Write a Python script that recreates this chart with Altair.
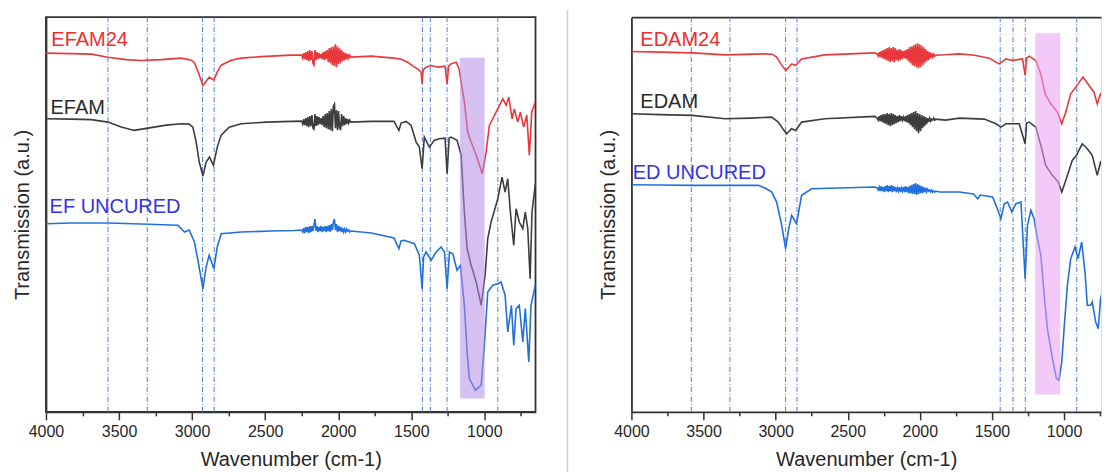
import altair as alt
import pandas as pd

FONT = "Liberation Sans"

# ================= Left panel (EF series) =================
# shared wavenumber grid of the noisy 2250-1914 cm-1 stretch
left_noise_wn = [2250, 2243, 2236, 2229, 2222, 2215, 2208, 2201, 2194, 2187,
                 2180, 2173, 2166, 2159, 2152, 2145, 2138, 2131, 2124, 2117,
                 2110, 2103, 2096, 2089, 2082, 2075, 2068, 2061, 2054, 2047,
                 2040, 2033, 2026, 2019, 2012, 2005, 1998, 1991, 1984, 1977,
                 1970, 1963, 1956, 1949, 1942, 1935, 1928, 1921, 1914]

efam24_head_wn = [4000, 3827, 3690, 3576, 3451, 3348, 3211, 3075, 3006, 2986,
                  2958, 2926, 2904, 2883, 2851, 2828, 2801, 2732, 2664, 2527, 2322]
efam24_head_t = [359, 358.5, 358, 355, 352.5, 351.7, 352.5, 354, 352, 350,
                 340, 326.7, 331, 335, 332, 340, 347, 352, 354, 355.5, 357]
efam24_noise_t = [357, 354, 359, 353, 360, 352, 361, 351, 362, 352,
                  361, 349, 347, 362, 352, 360, 353, 359, 354, 358,
                  353, 360, 352, 361, 353, 362, 350, 364, 349, 365,
                  347, 366, 346, 368, 345, 366, 348, 364, 349, 362,
                  351, 360, 352, 359, 353, 358, 354, 357, 355]
efam24_tail_wn = [1775, 1618, 1570, 1524, 1488, 1456, 1433, 1426, 1419, 1399,
                  1364, 1317, 1269, 1255, 1245, 1228, 1193, 1173, 1137, 1114,
                  1091, 1056, 1015, 988, 966, 920, 874, 851, 833, 810,
                  795, 772, 754, 731, 710, 692, 676, 651]
efam24_tail_t = [356, 354, 353, 350, 346, 343, 340, 328.3, 342, 345,
                 346.7, 345, 346, 328.3, 346, 348.3, 350, 343.3, 310, 280,
                 270, 257, 238.3, 260, 286.7, 300, 313.3, 307, 315, 293.3,
                 303.3, 290, 300, 285, 297, 256.7, 300, 310]

efam_head_wn = [4000, 3827, 3690, 3576, 3485, 3396, 3302, 3177, 3075, 3020,
                2995, 2972, 2951, 2926, 2904, 2881, 2854, 2828, 2801, 2746,
                2664, 2493, 2322]
efam_head_t = [293.3, 293, 292.5, 290, 285, 281.7, 284, 287, 288.3, 288,
               285, 270, 250, 236, 250, 255, 246.7, 265, 277, 285,
               288.3, 290, 290.7]
efam_noise_t = [291, 288, 293, 287, 294, 286, 295, 285, 296, 286,
                297, 284, 283, 298, 286, 296, 287, 295, 288, 294,
                287, 296, 285, 298, 284, 299, 283, 301, 282, 303,
                281, 306, 308, 284, 302, 282, 301, 284, 283, 298,
                286, 296, 287, 294, 288, 293, 289, 292, 290]
efam_tail_wn = [1775, 1618, 1585, 1570, 1536, 1501, 1467, 1445, 1426, 1411,
                1376, 1344, 1308, 1269, 1255, 1241, 1228, 1187, 1159, 1137,
                1118, 1091, 1056, 1022, 995, 977, 954, 908, 879, 858,
                840, 822, 799, 783, 761, 737, 720, 703, 687, 674, 651]
efam_tail_t = [290.7, 290.7, 281.7, 289, 290.7, 286.7, 270, 265, 243.3, 275,
               265, 271.7, 273.3, 274, 238.3, 274, 275, 271.7, 257, 200,
               163.3, 147, 130, 106.7, 137, 173.3, 190, 213.3, 235, 220,
               233.3, 200, 166.7, 203.3, 190, 183.3, 200, 183.3, 133.3, 200, 228.3]

ef_unc_head_wn = [4000, 3827, 3576, 3348, 3097, 3052, 3020, 2984, 2958, 2926,
                  2904, 2883, 2851, 2828, 2801, 2664, 2459, 2300]
ef_unc_head_t = [188.3, 189, 189, 188, 186.7, 180, 182, 170, 150, 123,
                 145, 156.7, 143.3, 165, 178.3, 180, 181, 181.5]
ef_unc_noise_t = [182, 180, 184, 179, 185, 180, 185, 179, 186, 180,
                  186, 181, 187, 193, 181, 186, 180, 185, 181, 186,
                  180, 185, 181, 186, 180, 186, 181, 187, 180, 188,
                  182, 190, 193, 182, 188, 180, 186, 181, 185, 180,
                  184, 180, 183, 180, 183, 181, 182, 180, 181]
ef_unc_tail_wn = [1775, 1618, 1585, 1570, 1549, 1479, 1445, 1426, 1416, 1399,
                  1364, 1330, 1296, 1273, 1255, 1239, 1216, 1187, 1164, 1137,
                  1118, 1103, 1061, 1022, 1000, 977, 943, 908, 886, 858,
                  840, 815, 799, 783, 761, 737, 720, 696, 681, 651]
ef_unc_tail_t = [179, 174, 163.3, 171, 171.7, 168.3, 156.7, 123.3, 155, 160,
                 151.7, 160, 165, 160, 123.3, 160, 158.3, 141.7, 146.7, 106.7,
                 60, 33.3, 21.7, 26.7, 66.7, 120, 126.7, 128.3, 130, 116.7,
                 80, 106.7, 66.7, 103.3, 106.7, 70, 103.3, 50, 106.7, 126.7]

left_marker_lines = [3576, 3307, 2929, 2849, 1424, 1370, 1255, 908]
left_band = {"x": 1166, "x2": 998, "y": 13.3, "y2": 354.3}
left_labels = ["EFAM24", "EFAM", "EF UNCURED"]
left_label_wn = [3963, 3969, 3975]
left_label_t = [371.7, 304, 205]

# ================= Right panel (ED series) =================
right_noise_wn = [2296, 2289, 2282, 2275, 2268, 2261, 2254, 2247, 2240, 2233,
                  2226, 2219, 2212, 2205, 2198, 2191, 2184, 2177, 2170, 2163,
                  2156, 2149, 2142, 2135, 2128, 2121, 2114, 2107, 2100, 2093,
                  2086, 2079, 2072, 2065, 2058, 2051, 2044, 2037, 2030, 2023,
                  2016, 2009, 2002, 1995, 1988, 1981, 1974, 1967, 1960, 1953,
                  1946, 1939, 1932, 1925, 1918, 1911, 1904, 1897, 1890]

edam24_head_wn = [4000, 3800, 3580, 3350, 3074, 3025, 2993, 2963, 2929, 2889,
                  2862, 2820, 2659, 2313]
edam24_head_t = [360.7, 360, 359.3, 357.3, 358.3, 358, 355, 348, 341.7, 348.3,
                 346.7, 353.3, 357.3, 359.3]
edam24_noise_t = [358, 356, 360, 355, 361, 354, 362, 353, 363, 352,
                  364, 351, 365, 350, 364, 351, 365, 350, 364, 352,
                  362, 351, 363, 352, 362, 353, 361, 354, 362, 353,
                  363, 351, 365, 349, 366, 347, 367, 346, 368, 345,
                  369, 344, 368, 345, 367, 347, 365, 349, 363, 351,
                  361, 352, 360, 354, 359, 355, 358, 356, 357]
edam24_tail_wn = [1823, 1726, 1622, 1519, 1472, 1449, 1403, 1357, 1288, 1270,
                  1260, 1242, 1196, 1161, 1132, 1092, 1046, 1016, 988, 954,
                  919, 869, 827, 793, 770, 747, 712, 689]
edam24_tail_t = [357.4, 358.3, 357, 354, 350, 348.3, 353.3, 351.7, 353.3, 336.7,
                 354, 356, 351.7, 338.3, 318.3, 308.3, 300, 288.3, 300, 318.3,
                 325, 335, 326.7, 320, 308.3, 318.3, 321.7, 316.7]

edam_head_wn = [4000, 3800, 3580, 3350, 3177, 3027, 2982, 2949, 2924, 2889,
                2862, 2820, 2659, 2313]
edam_head_t = [298.3, 297.5, 296.7, 293.3, 294, 295, 290, 283, 278.3, 283.3,
               281.7, 290, 293.3, 295.7]
edam_noise_t = [294, 292, 296, 291, 297, 290, 298, 289, 298, 288,
                299, 287, 298, 286, 299, 287, 298, 288, 297, 289,
                296, 290, 297, 291, 296, 292, 295, 291, 296, 290,
                297, 289, 298, 287, 299, 285, 300, 283, 301, 281,
                299, 279, 298, 281, 297, 284, 296, 286, 295, 288,
                294, 290, 294, 291, 293, 292, 294, 292, 293]
edam_tail_wn = [1823, 1726, 1553, 1472, 1438, 1403, 1311, 1270, 1260, 1242,
                1196, 1161, 1127, 1081, 1040, 1016, 988, 943, 915, 874,
                839, 805, 770, 747, 712, 689]
edam_tail_t = [292, 294, 293, 288.3, 285, 288.3, 288.3, 268.3, 289, 290,
               285, 266.7, 246.7, 236.7, 230, 220, 231.7, 251.7, 256.7, 268.3,
               263.3, 256.7, 236.7, 250, 253.3, 243.3]

ed_unc_head_wn = [4000, 3800, 3580, 3120, 3074, 3027, 2993, 2958, 2931, 2911,
                  2889, 2855, 2820, 2751, 2313]
ed_unc_head_t = [227.3, 227, 226.7, 226.7, 224, 220, 210, 186.7, 163.3, 182,
                 196.7, 188.3, 216.7, 223.3, 225]
ed_unc_noise_t = [224, 222, 225, 221, 226, 221, 225, 220, 226, 221,
                  227, 220, 226, 221, 227, 220, 226, 221, 225, 220,
                  224, 221, 225, 220, 224, 221, 225, 220, 226, 220,
                  225, 219, 226, 219, 227, 218, 228, 218, 229, 217,
                  228, 218, 227, 219, 226, 219, 225, 220, 224, 220,
                  223, 221, 222, 220, 222, 220, 221, 220, 221]
ed_unc_tail_wn = [1864, 1726, 1629, 1599, 1581, 1496, 1472, 1438, 1415, 1392,
                  1362, 1334, 1299, 1270, 1254, 1230, 1208, 1185, 1161, 1138,
                  1116, 1081, 1053, 1035, 1016, 1000, 977, 954, 924, 903,
                  878, 855, 839, 816, 805, 781, 763, 747, 724, 701, 689]
ed_unc_tail_t = [220, 220, 218, 213.3, 217, 215, 206.7, 193.3, 208.3, 210,
                 200, 208.3, 210, 133.3, 186.7, 201.7, 193.3, 173.3, 156.7, 116.7,
                 83.3, 53.3, 33.3, 31.7, 50, 83.3, 126.7, 153.3, 165, 153.3,
                 170, 140, 106.7, 106.7, 110, 90, 83.3, 113.3, 126.7, 96.7, 150]

right_marker_lines = [3585, 3317, 2931, 2852, 1443, 1354, 1269, 912]
right_band = {"x": 1200, "x2": 1027, "y": 17.3, "y2": 379}
right_labels = ["EDAM24", "EDAM", "ED UNCURED"]
right_label_wn = [3938, 3938, 3991]
right_label_t = [371.7, 310, 239.3]

LINE_COLORS = ["#e8383b", "#3d3d3d", "#2270dd"]
LABEL_COLORS = ["#ee2d2d", "#2a2a2a", "#3333e6"]
Y_DOMAIN = [0, 395]
TEXT_COLOR = "#262626"
FRAME_COLOR = "#333333"


def series_frame(name, head_wn, head_t, noise_wn, noise_t, tail_wn, tail_t):
    return pd.DataFrame({
        "series": name,
        "wn": head_wn + noise_wn + tail_wn,
        "t": head_t + noise_t + tail_t,
    })


def x_axis_bottom():
    return alt.Axis(
        orient="bottom", title="Wavenumber (cm-1)", grid=False,
        values=list(range(4000, 700, -250)),
        labelExpr="datum.value % 500 === 0 ? datum.value : ''",
        labelFlush=False, labelOverlap=False, labelPadding=4,
        tickSize={"condition": {"test": "datum.value % 500 === 0", "value": 8}, "value": 4},
        tickWidth=1.5, tickColor=FRAME_COLOR,
        domainColor=FRAME_COLOR, domainWidth=1.8,
        labelFont=FONT, labelFontSize=16, labelColor=TEXT_COLOR,
        titleFont=FONT, titleFontSize=20, titleFontWeight="normal",
        titleColor=TEXT_COLOR, titlePadding=10,
    )


def y_axis_left():
    return alt.Axis(
        orient="left", title="Transmission (a.u.)", grid=False,
        labels=False, ticks=False, domain=True,
        domainColor=FRAME_COLOR, domainWidth=1.8,
        titleFont=FONT, titleFontSize=20, titleFontWeight="normal",
        titleColor=TEXT_COLOR, titlePadding=13,
    )


def panel(names, spectra, marker_lines, band, band_color, label_wn, label_t,
          x_domain, width, right_panel):
    xs = alt.Scale(domain=x_domain, nice=False, zero=False)
    ys = alt.Scale(domain=Y_DOMAIN, nice=False, zero=False)
    color = alt.Color("series:N", legend=None,
                      scale=alt.Scale(domain=names, range=LINE_COLORS))

    vl = alt.Chart(pd.DataFrame({"wn": marker_lines})).mark_rule(
        color="#4d7fd6", strokeWidth=1, strokeDash=[5, 2, 1, 2]
    ).encode(x=alt.X("wn:Q", scale=xs, axis=x_axis_bottom()))

    spec = alt.Chart(pd.concat(spectra, ignore_index=True)).mark_line(
        strokeWidth=1.6, clip=True
    ).encode(
        x=alt.X("wn:Q", scale=xs, axis=None),
        y=alt.Y("t:Q", scale=ys, axis=y_axis_left()),
        color=color,
        detail="series:N",
    )

    top_axis = alt.Axis(orient="top", title=None, labels=False, ticks=False,
                        grid=False, domain=True, domainColor=FRAME_COLOR,
                        domainWidth=1.8) if right_panel else None
    rect = alt.Chart(pd.DataFrame([band])).mark_rect(
        color=band_color, opacity=0.55
    ).encode(
        x=alt.X("x:Q", scale=xs, axis=top_axis),
        x2="x2:Q",
        y=alt.Y("y:Q", scale=ys, axis=None),
        y2="y2:Q",
    )

    lab = alt.Chart(pd.DataFrame({"label": names, "wn": label_wn, "t": label_t,
                                  "c": LABEL_COLORS})).mark_text(
        align="left", baseline="middle", font=FONT, fontSize=20
    ).encode(
        x=alt.X("wn:Q", scale=xs, axis=None),
        y=alt.Y("t:Q", scale=ys, axis=None),
        text="label:N",
        color=alt.Color("c:N", scale=None, legend=None),
    )

    layers = [vl, spec, rect, lab]
    if right_panel:
        sep = alt.Chart(pd.DataFrame({"k": [0]})).mark_rule(
            color="#cfcfcf", strokeWidth=1.5
        ).encode(x=alt.value(-64), y=alt.value(-7), y2=alt.value(457))
        layers.append(sep)

    ch = alt.layer(*layers).resolve_axis(x="independent", y="independent") \
        .resolve_scale(color="independent").properties(width=width, height=395)
    if not right_panel:
        ch = ch.properties(view=alt.ViewBackground(stroke=FRAME_COLOR, strokeWidth=1.8))
    return ch


left_spectra = [
    series_frame("EFAM24", efam24_head_wn, efam24_head_t, left_noise_wn,
                 efam24_noise_t, efam24_tail_wn, efam24_tail_t),
    series_frame("EFAM", efam_head_wn, efam_head_t, left_noise_wn,
                 efam_noise_t, efam_tail_wn, efam_tail_t),
    series_frame("EF UNCURED", ef_unc_head_wn, ef_unc_head_t, left_noise_wn,
                 ef_unc_noise_t, ef_unc_tail_wn, ef_unc_tail_t),
]
right_spectra = [
    series_frame("EDAM24", edam24_head_wn, edam24_head_t, right_noise_wn,
                 edam24_noise_t, edam24_tail_wn, edam24_tail_t),
    series_frame("EDAM", edam_head_wn, edam_head_t, right_noise_wn,
                 edam_noise_t, edam_tail_wn, edam_tail_t),
    series_frame("ED UNCURED", ed_unc_head_wn, ed_unc_head_t, right_noise_wn,
                 ed_unc_noise_t, ed_unc_tail_wn, ed_unc_tail_t),
]

left = panel(left_labels, left_spectra, left_marker_lines, left_band,
             "#b48ae6", left_label_wn, left_label_t, [4000, 650], 490, False)
right = panel(right_labels, right_spectra, right_marker_lines, right_band,
              "#ea9cf5", right_label_wn, right_label_t, [4000, 744], 470, True)

chart = alt.hconcat(left, right, spacing=96, bounds="flush").properties(
    padding={"left": 4, "top": 0, "right": 0, "bottom": 0}
).configure_view(stroke=None).configure(background="white")

chart.save("out.html", embed_options={"renderer": "svg", "actions": False})
